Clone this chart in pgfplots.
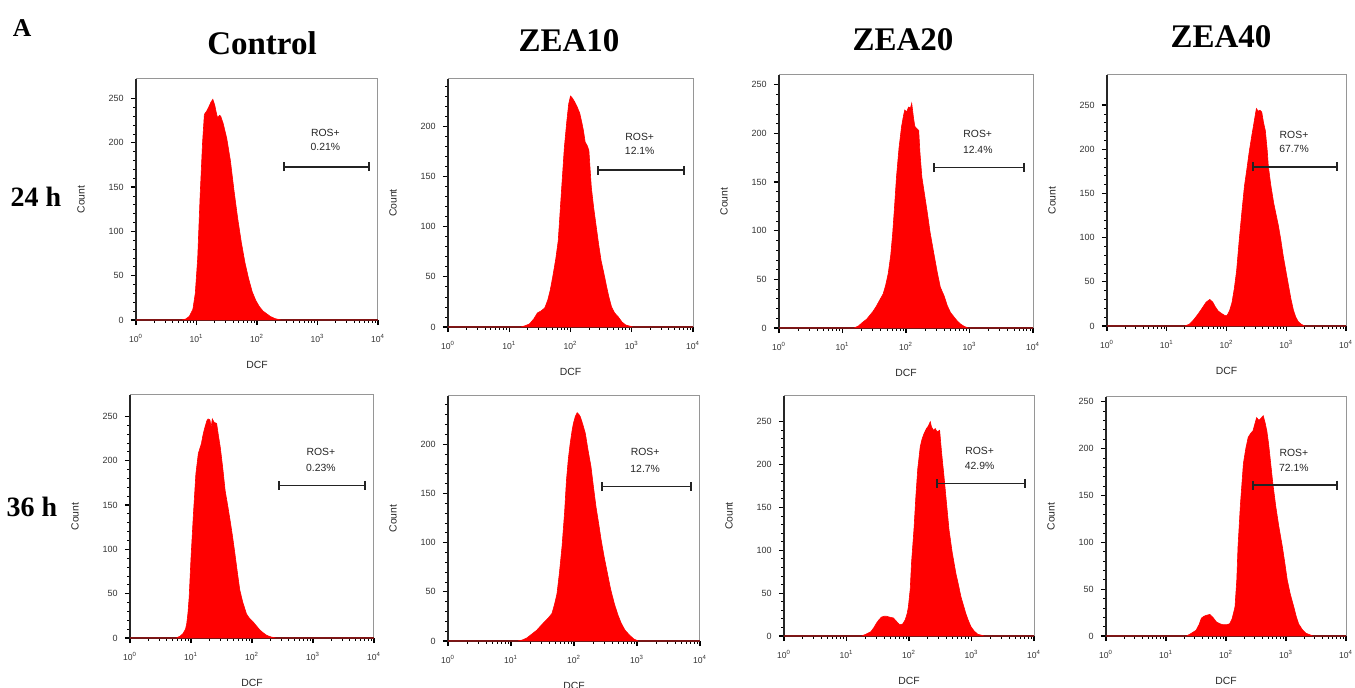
\documentclass[border=0pt]{standalone}
\usepackage{fontspec}
\setmainfont{Liberation Sans}
\newfontfamily\tnr{Liberation Serif}
\usepackage{pgfplots}
\pgfplotsset{compat=1.18}
\usetikzlibrary{arrows.meta}
\definecolor{frame}{RGB}{150,150,150}
\definecolor{gate}{RGB}{35,35,35}
\pgfplotsset{
 flow/.style={
  scale only axis, anchor=south west,
  xmin=0, xmax=4, ymin=0,
  xtick={0,1,2,3,4},
  xticklabels={10\textsuperscript{0},10\textsuperscript{1},10\textsuperscript{2},10\textsuperscript{3},10\textsuperscript{4}},
  minor xtick={0.30103,0.47712,0.60206,0.69897,0.77815,0.84510,0.90309,0.95424,
   1.30103,1.47712,1.60206,1.69897,1.77815,1.84510,1.90309,1.95424,
   2.30103,2.47712,2.60206,2.69897,2.77815,2.84510,2.90309,2.95424,
   3.30103,3.47712,3.60206,3.69897,3.77815,3.84510,3.90309,3.95424},
  ytick={0,50,100,150,200,250},
  minor y tick num=4,
  tick align=outside, xtick pos=bottom, ytick pos=left,
  major tick length=2.6pt, minor tick length=1.4pt,
  every tick/.style={black, line width=0.6pt},
  minor tick style={black, line width=0.35pt},
  axis line style={frame, line width=0.5pt},
  yticklabel style={font=\fontsize{4.5}{5}\selectfont, text=black!80},
  xticklabel style={font=\fontsize{4.3}{5}\selectfont, text=black!80, yshift=-1.2pt},
  /pgf/number format/assume math mode=true,
  xlabel={DCF}, ylabel={Count},
  every axis x label/.style={at={(axis description cs:0.5,0)}, anchor=center, yshift=-22.5pt, font=\fontsize{5.2}{6}\selectfont, text=black!85},
  every axis y label/.style={at={(axis description cs:0,0.5)}, xshift=-27.5pt, anchor=center, rotate=90, font=\fontsize{5.2}{6}\selectfont, text=black!85},
  clip=false,
 },
 hist/.style={fill=red, draw=red, line width=0.3pt},
}
\newcommand{\spines}{\draw[black!85, line width=0.65pt] (rel axis cs:0,1) -- (rel axis cs:0,0) -- (rel axis cs:1,0);}
\newcommand{\gate}[4]{%
 \draw[gate, line width=0.9pt, {Bar[width=4.5pt]}-{Bar[width=4.5pt]}] (axis cs:2.43,#1) -- (axis cs:3.87,#1);
 \node[font=\fontsize{5.2}{6}\selectfont, text=black!85] at (axis cs:3.13,#2) {ROS+};
 \node[font=\fontsize{5.2}{6}\selectfont, text=black!85] at (axis cs:3.13,#3) {#4};}
\begin{document}
\begin{tikzpicture}[x=0.5pt, y=0.5pt]
\useasboundingbox (0,0) rectangle (1355,688);
% titles
\node[font=\tnr\bfseries\fontsize{12.8}{14}\selectfont] at (22,660) {A};
\node[font=\tnr\bfseries\fontsize{16.5}{18}\selectfont] at (262,645) {Control};
\node[font=\tnr\bfseries\fontsize{16.5}{18}\selectfont] at (569,647) {ZEA10};
\node[font=\tnr\bfseries\fontsize{16.5}{18}\selectfont] at (903,648) {ZEA20};
\node[font=\tnr\bfseries\fontsize{16.5}{18}\selectfont] at (1221,651) {ZEA40};
\node[font=\tnr\bfseries\fontsize{14}{16}\selectfont] at (36,491) {24 h};
\node[font=\tnr\bfseries\fontsize{14}{16}\selectfont] at (32,181) {36 h};

% P1 Control 24h
\begin{axis}[flow, at={(68pt,184pt)}, width=121pt, height=120.5pt, ymax=272]
\spines
\addplot[hist] coordinates {(0,0)(0.75,0)(0.82,1)(0.88,4)(0.94,12)(0.98,30)(1.02,70)(1.06,140)(1.10,200)(1.13,232)(1.17,236)(1.20,240)(1.24,246)(1.27,249)(1.30,243)(1.33,233)(1.35,228)(1.38,231)(1.40,230)(1.44,222)(1.50,205)(1.56,180)(1.62,146)(1.68,115)(1.74,88)(1.80,65)(1.86,47)(1.92,32)(1.98,22)(2.04,15)(2.10,10)(2.16,7)(2.22,4)(2.30,1.5)(2.40,0)(4,0)} \closedcycle;
\gate{173}{211}{195}{0.21\%}
\end{axis}

% P2 ZEA10 24h
\begin{axis}[flow, at={(224pt,180.5pt)}, width=122.5pt, height=124pt, ymax=247]
\spines
\addplot[hist] coordinates {(0,0)(1.18,0)(1.25,1)(1.33,3)(1.40,8)(1.46,14)(1.52,16)(1.58,19)(1.63,27)(1.67,37)(1.71,50)(1.76,68)(1.80,86)(1.85,133)(1.90,179)(1.94,205)(1.97,222)(2.00,230)(2.03,228)(2.07,224)(2.11,219)(2.15,213)(2.18,205)(2.21,196)(2.24,184)(2.27,181)(2.30,176)(2.34,139)(2.38,118)(2.42,100)(2.46,82)(2.50,66)(2.55,52)(2.59,40)(2.63,29)(2.67,20)(2.72,14)(2.78,10)(2.84,5)(2.90,2)(3.02,0)(4,0)} \closedcycle;
\gate{156}{189}{175}{12.1\%}
\end{axis}

% P3 ZEA20 24h
\begin{axis}[flow, at={(389.5pt,180pt)}, width=127pt, height=126.5pt, ymax=260]
\spines
\addplot[hist] coordinates {(0,0)(1.18,0)(1.25,2)(1.32,6)(1.38,9)(1.43,13)(1.48,17)(1.53,22)(1.58,28)(1.64,35)(1.68,44)(1.72,56)(1.76,75)(1.79,97)(1.82,125)(1.85,155)(1.89,185)(1.93,207)(1.96,218)(1.98,224)(2.01,222)(2.04,227)(2.07,226)(2.09,231)(2.12,215)(2.14,207)(2.17,205)(2.20,203)(2.22,180)(2.25,155)(2.29,138)(2.33,121)(2.38,98)(2.44,76)(2.49,58)(2.54,42)(2.60,33)(2.65,23)(2.70,16)(2.76,11)(2.81,7)(2.86,4)(2.92,1.5)(2.98,0)(4,0)} \closedcycle;
\gate{165}{199}{183}{12.4\%}
\end{axis}

% P4 ZEA40 24h
\begin{axis}[flow, at={(553.5pt,181pt)}, width=119.5pt, height=125.5pt, ymax=284]
\spines
\addplot[hist] coordinates {(0,0)(1.30,0)(1.38,2)(1.45,7)(1.53,14)(1.60,21)(1.66,27)(1.72,30)(1.77,27)(1.81,22)(1.86,17)(1.92,14)(1.97,12)(2.01,12)(2.05,17)(2.09,26)(2.13,42)(2.17,63)(2.21,95)(2.26,131)(2.30,158)(2.34,177)(2.38,197)(2.42,214)(2.46,230)(2.50,246)(2.53,243)(2.56,244)(2.59,242)(2.62,230)(2.65,221)(2.68,200)(2.70,181)(2.74,160)(2.79,139)(2.83,126)(2.87,113)(2.91,97)(2.95,79)(3.00,60)(3.04,45)(3.08,30)(3.12,18)(3.16,10)(3.20,5)(3.25,2)(3.31,0)(4,0)} \closedcycle;
\gate{180}{216}{200}{67.7\%}
\end{axis}

% P5 Control 36h
\begin{axis}[flow, at={(65pt,25pt)}, width=122pt, height=121.5pt, ymax=274]
\spines
\addplot[hist] coordinates {(0,0)(0.76,0)(0.82,2)(0.87,5)(0.91,10)(0.93,16)(0.95,28)(0.97,46)(1.00,90)(1.04,140)(1.08,185)(1.12,208)(1.17,219)(1.20,230)(1.23,238)(1.26,245)(1.28,247)(1.31,246)(1.33,238)(1.35,247)(1.38,243)(1.42,242)(1.45,228)(1.48,215)(1.52,192)(1.56,166)(1.60,150)(1.64,133)(1.68,115)(1.72,95)(1.76,74)(1.80,54)(1.85,40)(1.91,27)(1.96,22)(2.02,18)(2.08,13)(2.13,9)(2.18,6)(2.24,3)(2.32,1)(2.40,0)(4,0)} \closedcycle;
\gate{172}{210}{192}{0.23\%}
\end{axis}

% P6 ZEA10 36h
\begin{axis}[flow, at={(224pt,23.5pt)}, width=126pt, height=122.5pt, ymax=249]
\spines
\addplot[hist] coordinates {(0,0)(1.10,0)(1.18,1)(1.25,3)(1.33,7)(1.41,11)(1.48,16)(1.54,20)(1.60,24)(1.65,28)(1.69,37)(1.73,48)(1.77,70)(1.81,96)(1.85,130)(1.88,163)(1.91,185)(1.94,201)(1.97,214)(1.99,221)(2.02,228)(2.05,232)(2.08,230)(2.10,228)(2.14,220)(2.18,211)(2.22,195)(2.27,177)(2.31,156)(2.35,136)(2.39,120)(2.43,103)(2.48,85)(2.53,69)(2.58,53)(2.64,38)(2.70,26)(2.75,18)(2.81,11)(2.88,6)(2.95,2)(3.02,0)(4,0)} \closedcycle;
\gate{157}{192}{175}{12.7\%}
\end{axis}

% P7 ZEA20 36h
\begin{axis}[flow, at={(392pt,26pt)}, width=125pt, height=120pt, ymax=280]
\spines
\addplot[hist] coordinates {(0,0)(1.24,0)(1.31,2)(1.39,5)(1.44,10)(1.48,15)(1.52,19)(1.56,22)(1.60,23)(1.64,23)(1.69,22)(1.75,21)(1.80,17)(1.85,13)(1.90,14)(1.94,19)(1.97,26)(1.99,34)(2.02,55)(2.04,85)(2.08,125)(2.11,163)(2.14,195)(2.18,221)(2.21,230)(2.24,236)(2.28,242)(2.31,245)(2.34,250)(2.36,244)(2.39,240)(2.42,242)(2.45,238)(2.49,240)(2.52,215)(2.56,186)(2.60,155)(2.64,124)(2.69,98)(2.75,73)(2.79,60)(2.83,46)(2.87,36)(2.91,26)(2.95,18)(2.99,11)(3.04,6)(3.10,2)(3.21,0)(4,0)} \closedcycle;
\gate{178}{216}{198}{42.9\%}
\end{axis}

% P8 ZEA40 36h
\begin{axis}[flow, at={(553pt,26pt)}, width=120pt, height=119.5pt, ymax=255]
\spines
\addplot[hist] coordinates {(0,0)(1.34,0)(1.40,2)(1.45,4)(1.50,6)(1.55,12)(1.59,19)(1.63,21)(1.67,22)(1.73,23)(1.78,20)(1.84,15)(1.90,13)(1.95,12)(2.01,12)(2.06,13)(2.10,18)(2.15,31)(2.18,60)(2.20,95)(2.24,140)(2.29,184)(2.33,200)(2.37,212)(2.41,216)(2.45,219)(2.48,226)(2.51,233)(2.55,230)(2.58,232)(2.62,235)(2.65,228)(2.68,219)(2.71,205)(2.74,187)(2.78,163)(2.83,138)(2.88,117)(2.94,95)(2.98,78)(3.02,60)(3.07,45)(3.13,31)(3.17,21)(3.21,13)(3.27,7)(3.33,3)(3.45,0)(4,0)} \closedcycle;
\gate{161}{195}{179}{72.1\%}
\end{axis}
\end{tikzpicture}
\end{document}
